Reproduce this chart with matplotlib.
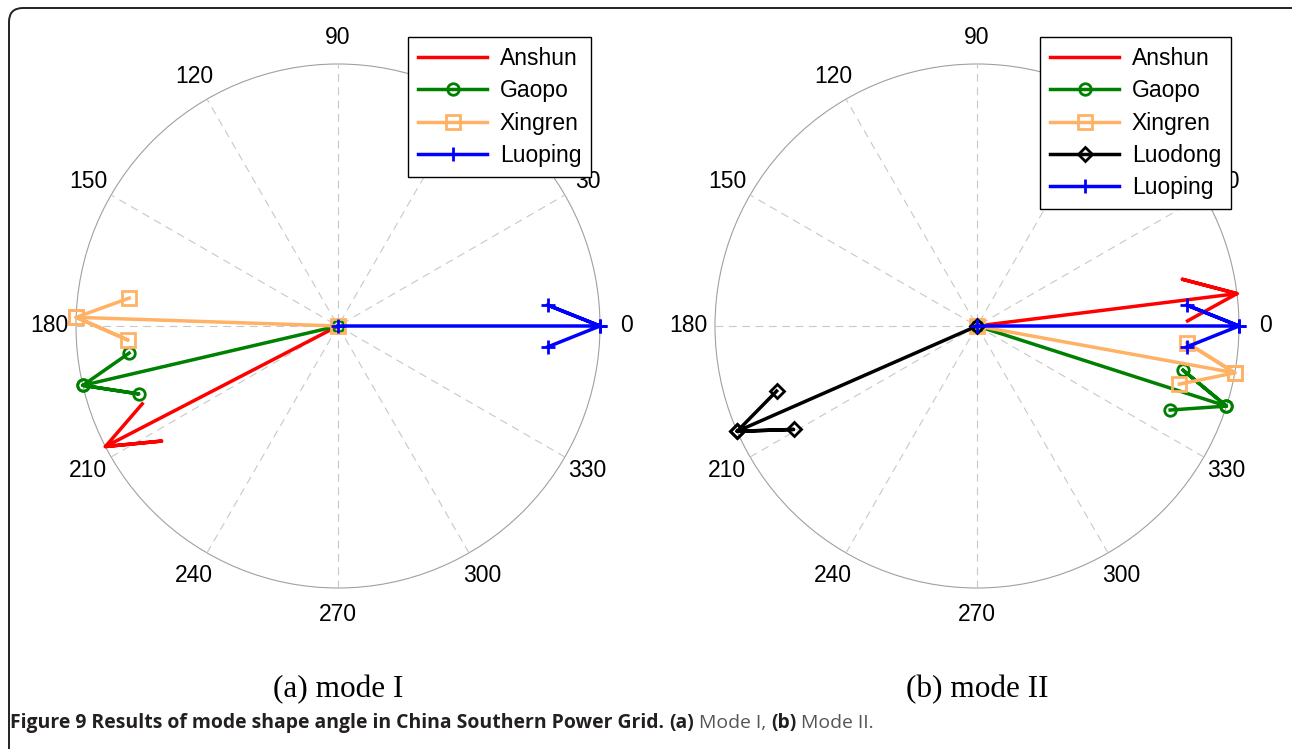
import numpy as np
import matplotlib
matplotlib.use("Agg")
import matplotlib.pyplot as plt
from matplotlib.lines import Line2D
from matplotlib.patches import FancyBboxPatch, Circle
from matplotlib import font_manager

# ---------------- data ----------------
stations_a = ["Anshun", "Gaopo", "Xingren", "Luoping"]
magnitude_a = [1.0, 1.0, 1.0, 1.0]
angle_a = [207.4, 193.1, 178.1, 0.0]          # degrees

stations_b = ["Anshun", "Gaopo", "Xingren", "Luodong", "Luoping"]
magnitude_b = [1.0, 1.0, 1.0, 1.0, 1.0]
angle_b = [7.1, 342.2, 349.7, 203.7, 0.0]     # degrees

angle_ticks = [0, 30, 60, 90, 120, 150, 180, 210, 240, 270, 300, 330]
subtitles = ["(a) mode I", "(b) mode II"]

# ---------------- styles ----------------
colors = {"Anshun": "#ff0000", "Gaopo": "#008000", "Xingren": "#ffb266",
          "Luodong": "#000000", "Luoping": "#0000ff"}
markers = {"Anshun": None, "Gaopo": "o", "Xingren": "s", "Luodong": "D", "Luoping": "+"}
msizes = {"Anshun": 0, "Gaopo": 8.3, "Xingren": 10, "Luodong": 7.6, "Luoping": 10}
LW = 2.5
MEW = 2.0

W, H = 1292, 749
fig = plt.figure(figsize=(W / 100, H / 100), dpi=100)
fig.patch.set_facecolor("white")

R = 262.0  # circle radius in pixels
L = 1.2    # data half-range


def make_axes(cx, cy):
    half = R * L
    left = (cx - half) / W
    bottom = (H - (cy + half)) / H
    ax = fig.add_axes([left, bottom, 2 * half / W, 2 * half / H])
    ax.set_xlim(-L, L)
    ax.set_ylim(-L, L)
    ax.set_aspect("equal")
    ax.axis("off")
    return ax


def compass(ax, names, mags, angs):
    # circle and spokes
    ax.add_patch(Circle((0, 0), 1.0, fill=False, edgecolor="#a0a0a0", lw=0.8, zorder=1))
    for a in angle_ticks[:6]:
        t = np.deg2rad(a)
        ax.plot([-np.cos(t), np.cos(t)], [-np.sin(t), np.sin(t)], color="#c8c8c8",
                lw=0.8, ls=(0, (7, 5)), zorder=1)
    for a in angle_ticks:
        t = np.deg2rad(a)
        ax.text(1.1 * np.cos(t), 1.1 * np.sin(t), str(a), ha="center", va="center",
                fontsize=16.5, family="Liberation Sans", color="black", zorder=3)
    handles = []
    for n, m, a in zip(names, mags, angs):
        z = m * np.exp(1j * np.deg2rad(a))
        pts = z * np.array([0, 1, 0.8 + 0.08j, 1, 0.8 - 0.08j])
        mk = markers[n]
        ax.plot(pts.real, pts.imag, color=colors[n], lw=LW, marker=mk,
                ms=msizes[n], mfc="none", mew=MEW, clip_on=False, zorder=2)
        handles.append(Line2D([], [], color=colors[n], lw=LW, marker=mk, ms=msizes[n],
                              mfc="none", mew=MEW, label=n))
    return handles


ax1 = make_axes(338, 326)
h1 = compass(ax1, stations_a, magnitude_a, angle_a)
ax2 = make_axes(977, 326)
h2 = compass(ax2, stations_b, magnitude_b, angle_b)

for ax, h, x0 in [(ax1, h1, 408), (ax2, h2, 1040)]:
    leg = ax.legend(handles=h, loc="upper left", bbox_to_anchor=(x0 / W, 1 - 37 / H),
                    bbox_transform=fig.transFigure, borderaxespad=0, fancybox=False,
                    framealpha=1, edgecolor="black", handlelength=3.0, handletextpad=0.55,
                    borderpad=0.45, labelspacing=0.4,
                    prop={"family": "Liberation Sans", "size": 16.5})
    leg.get_frame().set_linewidth(1.0)
    leg.set_zorder(10)

# subtitles
for cx, s in zip([338, 977], subtitles):
    fig.text(cx / W, 1 - 690 / H, s, ha="center", va="center",
             family="Liberation Serif", fontsize=22.5)

# outer rounded frame (top-left corner visible, rest runs off the image)
frame = FancyBboxPatch((9, -30), W + 10, H - 8 + 30,
                       boxstyle="round,pad=0,rounding_size=14", transform=None,
                       facecolor="none", edgecolor="#222222", lw=1.4)
fig.patches.append(frame)

# caption
avail = {f.name for f in font_manager.fontManager.ttflist}
cap_font = "Liberation Sans Narrow" if "Liberation Sans Narrow" in avail else "Open Sans"
pieces = [("Figure 9 Results of mode shape angle in China Southern Power Grid. ", "bold", "#231f20"),
          ("(a)", "bold", "#231f20"), (" Mode I, ", "normal", "#555555"),
          ("(b)", "bold", "#231f20"), (" Mode II.", "normal", "#555555")]
renderer = fig.canvas.get_renderer()
fs = 12.5
texts = []
x = 10
for s, wgt, c in pieces:
    t = fig.text(x / W, 1 - 723 / H, s, ha="left", va="center", family=cap_font,
                 fontweight=wgt, fontsize=fs, color=c)
    texts.append(t)
    x = t.get_window_extent(renderer).x1
total = x - 10
fs2 = fs * 862 / total
x = 10
for t in texts:
    t.set_fontsize(fs2)
    t.set_x(x / W)
    x = t.get_window_extent(renderer).x1

fig.savefig("out.png", dpi=100)
